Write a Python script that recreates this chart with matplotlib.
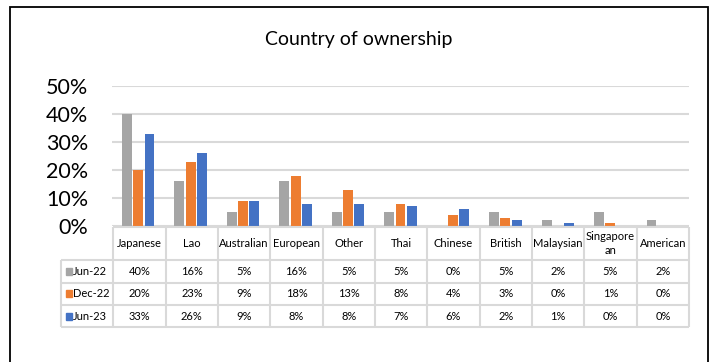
import numpy as np
import matplotlib.pyplot as plt
from matplotlib.patches import Rectangle

plt.rcParams['font.family'] = ['Lato', 'DejaVu Sans']

# ownership share by country, one list per survey round
categories = ['Japanese', 'Lao', 'Australian', 'European', 'Other', 'Thai',
              'Chinese', 'British', 'Malaysian', 'Singapore\nan', 'American']
series_names = ['Jun-22', 'Dec-22', 'Jun-23']
jun22 = [40, 16, 5, 16, 5, 5, 0, 5, 2, 5, 2]
dec22 = [20, 23, 9, 18, 13, 8, 4, 3, 0, 1, 0]
jun23 = [33, 26, 9, 8, 8, 7, 6, 2, 1, 0, 0]
colors = ['#A5A5A5', '#ED7D31', '#4472C4']

series = [jun22, dec22, jun23]
grid_c = '#D9D9D9'

fig = plt.figure(figsize=(7.11, 3.62), dpi=100)
W, H = 711, 362

def fx(px):
    return px / W

def fy(py):
    return 1 - py / H

# bar chart
ax = fig.add_axes([fx(112), fy(226), fx(689) - fx(112), fy(86) - fy(226)])

n = len(categories)
x = np.arange(n)
offsets = [-0.215, 0.0, 0.215]
for vals, off, c in zip(series, offsets, colors):
    ax.bar(x + off, np.array(vals) / 100, width=0.19, color=c, zorder=3)

ax.set_xlim(-0.5, n - 0.5)
ax.set_ylim(0, 0.5)
yt = np.arange(0, 0.51, 0.1)
ax.set_yticks(yt)
ax.set_yticklabels([f'{int(round(v * 100))}%' for v in yt], fontsize=15.5)
ax.tick_params(axis='y', length=0, pad=17)
ax.set_xticks([])
ax.yaxis.grid(True, color=grid_c, linewidth=1.5, zorder=0)
for s in ax.spines.values():
    s.set_visible(False)

# data table: column -1 holds the series names, rows measured in pixels
tax = fig.add_axes([fx(61), fy(327), fx(689) - fx(61), fy(227) - fy(327)])
tax.set_xlim(-1, n)
tax.set_ylim(100, 0)
tax.axis('off')

row_edges = [0, 33, 55.5, 78, 100]
lw = 1.5
tax.hlines(row_edges[0], 0, n, color=grid_c, lw=lw, clip_on=False)
tax.hlines(row_edges[1:], -1, n, color=grid_c, lw=lw, clip_on=False)
tax.vlines(np.arange(0, n + 1), 0, 100, color=grid_c, lw=lw, clip_on=False)
tax.vlines(-1, 33, 100, color=grid_c, lw=lw, clip_on=False)

fs = 8
for i, cat in enumerate(categories):
    tax.text(i + 0.5, 16.5, cat, ha='center', va='center', fontsize=fs,
             linespacing=1.3)

col_w = (689 - 61) / (n + 1)
for r, (name, vals, c) in enumerate(zip(series_names, series, colors)):
    yc = (row_edges[r + 1] + row_edges[r + 2]) / 2
    for i, v in enumerate(vals):
        tax.text(i + 0.5, yc, f'{v}%', ha='center', va='center', fontsize=fs)
    tax.add_patch(Rectangle((-1 + 4.5 / col_w, yc - 3.5), 6 / col_w, 7,
                            color=c, clip_on=False))
    tax.text(-1 + 11.5 / col_w, yc, name, ha='left', va='center', fontsize=fs)

fig.text(0.505, fy(40), 'Country of ownership', ha='center', va='center',
         fontsize=14)

# chart frame
fig.patches.append(Rectangle((fx(10), -0.05), fx(708) - fx(10), fy(7) + 0.05,
                             transform=fig.transFigure, fill=False,
                             edgecolor='black', linewidth=1.3))

fig.savefig('out.png', dpi=100)
